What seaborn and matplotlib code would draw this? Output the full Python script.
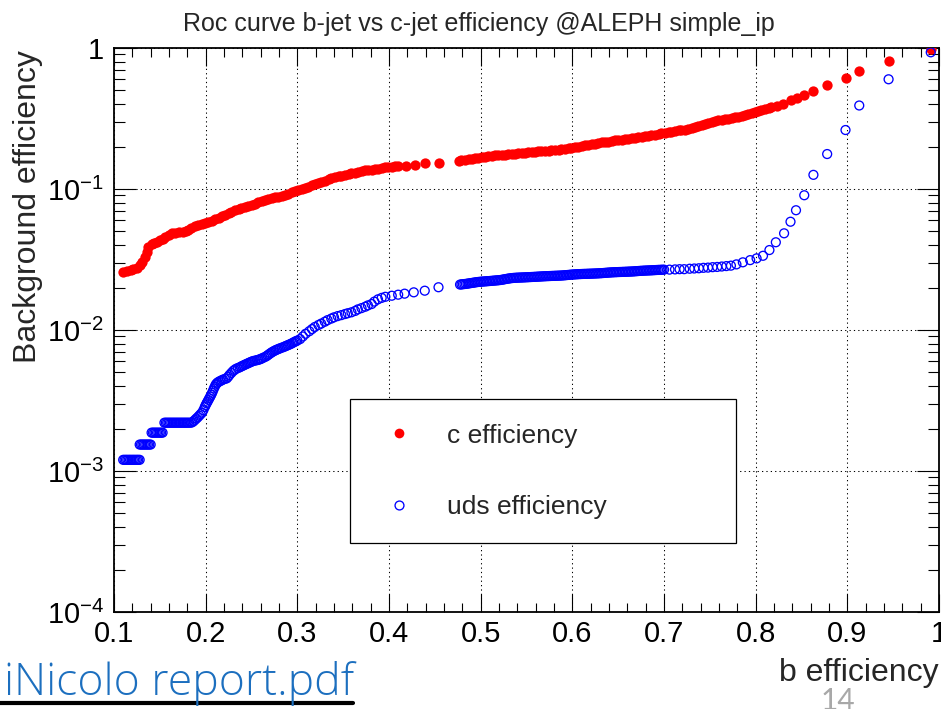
import numpy as np
import pandas as pd
import matplotlib
matplotlib.use("Agg")
import matplotlib.pyplot as plt
from matplotlib.lines import Line2D
from matplotlib.ticker import MultipleLocator, LogLocator, FuncFormatter, NullFormatter
import seaborn as sns

# ROC points: (b efficiency, c-jet efficiency)
c_band_low = [
    (0.110, 0.0259), (0.114, 0.0263), (0.118, 0.0267), (0.121, 0.0270), (0.125, 0.0274),
    (0.128, 0.0287), (0.131, 0.0305), (0.134, 0.0330), (0.136, 0.0355), (0.1375, 0.0390),
    (0.141, 0.0405), (0.144, 0.0414), (0.147, 0.0424), (0.150, 0.0432), (0.153, 0.0442),
    (0.156, 0.0456), (0.160, 0.0472), (0.163, 0.0485), (0.167, 0.0491), (0.171, 0.0495),
    (0.175, 0.0498), (0.178, 0.0503), (0.181, 0.0512), (0.184, 0.0532), (0.188, 0.0550),
    (0.192, 0.0558), (0.196, 0.0565), (0.199, 0.0571), (0.203, 0.0583), (0.207, 0.0597),
    (0.210, 0.0611), (0.214, 0.0626), (0.218, 0.0641), (0.221, 0.0654), (0.225, 0.0673),
    (0.228, 0.0689), (0.232, 0.0704), (0.236, 0.0718), (0.239, 0.0733), (0.243, 0.0749),
    (0.246, 0.0761), (0.250, 0.0774), (0.254, 0.0789), (0.257, 0.0805), (0.261, 0.0820),
    (0.265, 0.0836), (0.268, 0.0847), (0.272, 0.0859), (0.276, 0.0871), (0.279, 0.0882),
    (0.283, 0.0894), (0.287, 0.0907), (0.290, 0.0927), (0.294, 0.0947), (0.297, 0.0965),
    (0.301, 0.0984), (0.305, 0.1002), (0.308, 0.1020), (0.312, 0.1040), (0.316, 0.1060),
    (0.319, 0.1078), (0.323, 0.1097), (0.326, 0.1120), (0.330, 0.1145), (0.334, 0.1168),
    (0.337, 0.1190), (0.341, 0.1210), (0.345, 0.1230), (0.348, 0.1243), (0.352, 0.1257),
    (0.356, 0.1273), (0.359, 0.1290), (0.363, 0.1305), (0.366, 0.1320), (0.370, 0.1338),
    (0.374, 0.1356), (0.377, 0.1360), (0.381, 0.1364), (0.385, 0.1375), (0.388, 0.1387),
    (0.392, 0.1405), (0.396, 0.1425), (0.399, 0.1432), (0.403, 0.1440), (0.406, 0.1448),
    (0.410, 0.1455),
]
c_gap = [(0.419, 0.146), (0.428, 0.149), (0.439, 0.152), (0.454, 0.154)]
c_band_high = [
    (0.476, 0.159), (0.479, 0.160), (0.483, 0.161), (0.487, 0.162), (0.490, 0.163),
    (0.494, 0.165), (0.497, 0.167), (0.501, 0.168), (0.505, 0.170), (0.508, 0.171),
    (0.512, 0.172), (0.516, 0.173), (0.519, 0.174), (0.523, 0.175), (0.526, 0.175),
    (0.530, 0.176), (0.534, 0.177), (0.537, 0.178), (0.541, 0.179), (0.545, 0.180),
    (0.548, 0.181), (0.552, 0.182), (0.556, 0.183), (0.559, 0.184), (0.563, 0.185),
    (0.566, 0.186), (0.570, 0.187), (0.574, 0.187), (0.577, 0.188), (0.581, 0.189),
    (0.585, 0.190), (0.588, 0.192), (0.592, 0.193), (0.596, 0.194), (0.599, 0.196),
    (0.603, 0.198), (0.606, 0.200), (0.610, 0.202), (0.614, 0.204), (0.617, 0.206),
    (0.621, 0.208), (0.625, 0.210), (0.628, 0.212), (0.632, 0.214), (0.636, 0.215),
    (0.639, 0.217), (0.643, 0.219), (0.646, 0.221), (0.650, 0.223), (0.654, 0.224),
    (0.657, 0.226), (0.661, 0.227), (0.665, 0.229), (0.668, 0.230), (0.672, 0.232),
    (0.676, 0.234), (0.679, 0.236), (0.683, 0.239), (0.686, 0.241), (0.690, 0.243),
    (0.694, 0.246), (0.697, 0.248), (0.701, 0.250), (0.705, 0.252), (0.708, 0.255),
    (0.712, 0.258), (0.716, 0.260), (0.719, 0.262), (0.723, 0.264), (0.726, 0.268),
    (0.730, 0.272), (0.734, 0.277), (0.737, 0.281), (0.741, 0.285), (0.745, 0.288),
    (0.748, 0.292), (0.752, 0.297), (0.756, 0.302), (0.759, 0.307), (0.763, 0.310),
    (0.766, 0.314), (0.770, 0.316), (0.774, 0.319), (0.777, 0.322), (0.781, 0.325),
    (0.785, 0.329), (0.788, 0.334), (0.792, 0.339), (0.796, 0.345), (0.799, 0.350),
    (0.803, 0.356), (0.806, 0.362), (0.810, 0.369), (0.814, 0.375), (0.817, 0.382),
]
c_tail = [
    (0.823, 0.388), (0.830, 0.401), (0.839, 0.428), (0.845, 0.444), (0.853, 0.464),
    (0.863, 0.498), (0.878, 0.549), (0.898, 0.608), (0.913, 0.690), (0.945, 0.809),
    (0.991, 0.979),
]

# ROC points: (b efficiency, uds-jet efficiency)
uds_steps = [
    (0.110, 0.00120), (0.1115, 0.00120), (0.113, 0.00120), (0.1145, 0.00120), (0.116, 0.00120),
    (0.1175, 0.00120), (0.119, 0.00120), (0.1205, 0.00120), (0.122, 0.00120), (0.1235, 0.00120),
    (0.125, 0.00120), (0.1265, 0.00120), (0.128, 0.00120),
    (0.128, 0.00154), (0.1295, 0.00154), (0.131, 0.00154), (0.1325, 0.00154), (0.134, 0.00154),
    (0.1355, 0.00154), (0.137, 0.00154), (0.1385, 0.00154), (0.140, 0.00154),
    (0.141, 0.00187), (0.1425, 0.00187), (0.144, 0.00187), (0.1455, 0.00187), (0.147, 0.00187),
    (0.1485, 0.00187), (0.150, 0.00187), (0.1515, 0.00187), (0.153, 0.00187),
    (0.155, 0.00220), (0.1565, 0.00220), (0.158, 0.00220), (0.1595, 0.00220), (0.161, 0.00220),
    (0.1625, 0.00220), (0.164, 0.00220), (0.1655, 0.00220), (0.167, 0.00220), (0.1685, 0.00220),
    (0.170, 0.00220), (0.1715, 0.00220), (0.173, 0.00220), (0.1745, 0.00220), (0.176, 0.00220),
    (0.1775, 0.00220), (0.179, 0.00220), (0.1805, 0.00220), (0.182, 0.00220), (0.184, 0.00220),
]
uds_rise = [
    (0.1855, 0.00222), (0.187, 0.00226), (0.1885, 0.00231), (0.190, 0.00236), (0.1915, 0.00241),
    (0.193, 0.00247), (0.1945, 0.00253), (0.196, 0.00259), (0.1975, 0.00270), (0.199, 0.00284),
    (0.200, 0.00293), (0.201, 0.00302), (0.202, 0.00310), (0.203, 0.00319), (0.204, 0.00328),
    (0.205, 0.00337), (0.206, 0.00347), (0.207, 0.00358), (0.208, 0.00371), (0.209, 0.00385),
    (0.210, 0.00397), (0.211, 0.00410), (0.212, 0.00417), (0.213, 0.00424), (0.2145, 0.00430),
    (0.216, 0.00435), (0.2175, 0.00440), (0.219, 0.00445), (0.221, 0.00450), (0.223, 0.00454),
    (0.2245, 0.00466), (0.226, 0.00480), (0.228, 0.00496), (0.230, 0.00512), (0.2315, 0.00521),
    (0.233, 0.00530), (0.235, 0.00537), (0.237, 0.00543), (0.2385, 0.00550), (0.240, 0.00556),
    (0.2415, 0.00562), (0.243, 0.00568), (0.2445, 0.00574), (0.246, 0.00580), (0.2475, 0.00586),
    (0.249, 0.00592), (0.2505, 0.00598), (0.252, 0.00603), (0.254, 0.00607), (0.256, 0.00611),
    (0.2575, 0.00615), (0.259, 0.00619), (0.2605, 0.00625), (0.262, 0.00632), (0.264, 0.00641),
    (0.266, 0.00650), (0.2675, 0.00661), (0.269, 0.00672), (0.2705, 0.00683), (0.272, 0.00694),
    (0.2735, 0.00703), (0.275, 0.00712), (0.2765, 0.00720), (0.278, 0.00727), (0.2795, 0.00734),
    (0.281, 0.00741), (0.283, 0.00749), (0.285, 0.00757), (0.2865, 0.00765), (0.288, 0.00772),
    (0.2895, 0.00780), (0.291, 0.00787), (0.2925, 0.00795), (0.294, 0.00804), (0.2955, 0.00814),
    (0.297, 0.00824), (0.2985, 0.00833), (0.300, 0.00842), (0.303, 0.00862),
    (0.306, 0.00900), (0.309, 0.00940), (0.313, 0.00980), (0.316, 0.01015), (0.319, 0.01050),
    (0.323, 0.01085), (0.326, 0.01110), (0.330, 0.01145), (0.333, 0.01175), (0.337, 0.01205),
    (0.340, 0.01230), (0.344, 0.01255), (0.348, 0.01275), (0.352, 0.01298), (0.355, 0.01315),
    (0.359, 0.01335), (0.363, 0.01365), (0.366, 0.01400), (0.370, 0.01430), (0.374, 0.01462),
    (0.377, 0.01495), (0.381, 0.01528), (0.384, 0.01590), (0.388, 0.01650), (0.392, 0.01690),
    (0.396, 0.01720),
]
uds_gap = [
    (0.403, 0.0175), (0.410, 0.0178), (0.417, 0.0181), (0.427, 0.0185), (0.439, 0.0190),
    (0.454, 0.0201),
]
uds_band_high = [
    (0.4775, 0.02100), (0.4790, 0.02106), (0.4806, 0.02112), (0.4823, 0.02118), (0.4839, 0.02124),
    (0.4856, 0.02132), (0.4872, 0.02140), (0.4889, 0.02149), (0.4905, 0.02157), (0.4922, 0.02166),
    (0.4938, 0.02174), (0.4955, 0.02183), (0.4971, 0.02190), (0.4988, 0.02196), (0.5004, 0.02201),
    (0.5021, 0.02205), (0.5037, 0.02210), (0.5054, 0.02214), (0.5070, 0.02218), (0.5087, 0.02223),
    (0.5103, 0.02227), (0.5120, 0.02232), (0.5136, 0.02237), (0.5153, 0.02242), (0.5169, 0.02247),
    (0.5186, 0.02252), (0.5202, 0.02257), (0.5219, 0.02264), (0.5235, 0.02273), (0.5252, 0.02284),
    (0.5268, 0.02295), (0.5285, 0.02305), (0.5301, 0.02315), (0.5318, 0.02324), (0.5334, 0.02332),
    (0.5351, 0.02338), (0.5367, 0.02343), (0.5384, 0.02347), (0.5400, 0.02350), (0.5417, 0.02353),
    (0.5433, 0.02355), (0.5450, 0.02358), (0.5466, 0.02360), (0.5483, 0.02363), (0.5499, 0.02366),
    (0.5516, 0.02369), (0.5532, 0.02372), (0.5549, 0.02375), (0.5565, 0.02378), (0.5582, 0.02381),
    (0.5598, 0.02384), (0.5615, 0.02388), (0.5631, 0.02391), (0.5648, 0.02395), (0.5664, 0.02398),
    (0.5681, 0.02402), (0.5697, 0.02405), (0.5714, 0.02408), (0.5730, 0.02411), (0.5747, 0.02413),
    (0.5763, 0.02416), (0.5780, 0.02418), (0.5796, 0.02421), (0.5813, 0.02423), (0.5829, 0.02426),
    (0.5846, 0.02428), (0.5862, 0.02431), (0.5879, 0.02434), (0.5895, 0.02438), (0.5912, 0.02443),
    (0.5928, 0.02448), (0.5945, 0.02454), (0.5961, 0.02460), (0.5978, 0.02466), (0.5994, 0.02471),
    (0.6011, 0.02476), (0.6027, 0.02480), (0.6044, 0.02484), (0.6060, 0.02488), (0.6077, 0.02491),
    (0.6093, 0.02494), (0.6110, 0.02497), (0.6126, 0.02499), (0.6143, 0.02501), (0.6159, 0.02503),
    (0.6176, 0.02506), (0.6192, 0.02508), (0.6209, 0.02510), (0.6225, 0.02513), (0.6242, 0.02515),
    (0.6258, 0.02518), (0.6275, 0.02521), (0.6291, 0.02524), (0.6308, 0.02528), (0.6324, 0.02532),
    (0.6341, 0.02537), (0.6357, 0.02542), (0.6374, 0.02547), (0.6390, 0.02552), (0.6407, 0.02557),
    (0.6423, 0.02561), (0.6440, 0.02565), (0.6456, 0.02568), (0.6473, 0.02571), (0.6489, 0.02574),
    (0.6506, 0.02577), (0.6522, 0.02579), (0.6539, 0.02581), (0.6555, 0.02584), (0.6572, 0.02586),
    (0.6588, 0.02589), (0.6605, 0.02592), (0.6621, 0.02595), (0.6638, 0.02598), (0.6654, 0.02601),
    (0.6671, 0.02605), (0.6687, 0.02610), (0.6704, 0.02615), (0.6720, 0.02620), (0.6737, 0.02625),
    (0.6753, 0.02629), (0.6770, 0.02633), (0.6786, 0.02637), (0.6803, 0.02640), (0.6819, 0.02643),
    (0.6836, 0.02646), (0.6852, 0.02649), (0.6869, 0.02652), (0.6885, 0.02656), (0.6902, 0.02660),
    (0.6918, 0.02664), (0.6935, 0.02667), (0.6951, 0.02670), (0.6968, 0.02673), (0.6984, 0.02676),
    (0.7001, 0.02679),
]
uds_tail = [
    (0.706, 0.0268), (0.712, 0.0269), (0.717, 0.0270), (0.722, 0.0270), (0.728, 0.0272),
    (0.733, 0.0273), (0.738, 0.0274), (0.743, 0.0276), (0.748, 0.0277), (0.753, 0.0279),
    (0.758, 0.0280), (0.763, 0.0282), (0.768, 0.0284), (0.773, 0.0286), (0.779, 0.0292),
    (0.786, 0.0302), (0.794, 0.0313), (0.801, 0.0322), (0.808, 0.0336), (0.815, 0.0369),
    (0.822, 0.0419), (0.831, 0.0485), (0.838, 0.0586), (0.844, 0.0707), (0.853, 0.0903),
    (0.863, 0.126), (0.878, 0.177), (0.898, 0.262), (0.913, 0.391), (0.945, 0.600),
    (0.991, 0.932),
]

series_labels = ["c efficiency", "uds efficiency"]
title_text = "Roc curve b-jet vs c-jet efficiency @ALEPH simple_ip"
x_label = "b efficiency"
y_label = "Background efficiency"
file_link_text = "iNicolo report.pdf"
page_number = "14"

c_df = pd.DataFrame(c_band_low + c_gap + c_band_high + c_tail, columns=["b_eff", "bkg_eff"])
uds_df = pd.DataFrame(uds_steps + uds_rise + uds_gap + uds_band_high + uds_tail,
                      columns=["b_eff", "bkg_eff"])

sns.set_theme(style="ticks")
plt.rcParams["font.family"] = ["Liberation Sans", "DejaVu Sans"]
plt.rcParams["mathtext.fontset"] = "custom"
plt.rcParams["mathtext.rm"] = "Liberation Sans"
plt.rcParams["mathtext.it"] = "Liberation Sans:italic"
plt.rcParams["mathtext.bf"] = "Liberation Sans:bold"
plt.rcParams["mathtext.sf"] = "Liberation Sans"
plt.rcParams["axes.edgecolor"] = "black"
plt.rcParams["xtick.color"] = "black"
plt.rcParams["ytick.color"] = "black"

fig = plt.figure(figsize=(9.41, 7.09), dpi=100, facecolor="white")
ax = fig.add_axes([114 / 941, 97 / 709, 825 / 941, 564 / 709])
ax.set_facecolor("white")

RED = "#ff0000"
BLUE = "#0000ff"

sns.scatterplot(data=c_df, x="b_eff", y="bkg_eff", ax=ax, marker="o", s=55,
                color=RED, linewidth=0, zorder=3)
sns.scatterplot(data=uds_df, x="b_eff", y="bkg_eff", ax=ax, marker="o", s=41,
                facecolor="none", edgecolor=BLUE, linewidth=0.95, zorder=4)

ax.set_yscale("log")
ax.set_xlim(0.1, 1.0)
ax.set_ylim(1e-4, 1)

ax.xaxis.set_major_locator(MultipleLocator(0.1))
ax.xaxis.set_minor_locator(MultipleLocator(0.02))
ax.yaxis.set_major_locator(LogLocator(base=10, numticks=10))
ax.yaxis.set_minor_locator(LogLocator(base=10, subs=np.arange(2, 10), numticks=20))
ax.yaxis.set_minor_formatter(NullFormatter())


def y_fmt(v, pos):
    e = int(round(np.log10(v)))
    return "1" if e == 0 else rf"$10^{{{e}}}$"


def x_fmt(v, pos):
    return "1" if abs(v - 1) < 1e-9 else f"{v:.1f}"


ax.yaxis.set_major_formatter(FuncFormatter(y_fmt))
ax.xaxis.set_major_formatter(FuncFormatter(x_fmt))

ax.tick_params(which="both", direction="in", top=True, right=True)
ax.tick_params(axis="x", which="major", length=13, width=0.8, labelsize=21, pad=6)
ax.tick_params(axis="x", which="minor", length=6.3, width=0.8)
ax.tick_params(axis="y", which="major", length=16, width=0.8, labelsize=21, pad=7)
ax.tick_params(axis="y", which="minor", length=8, width=0.8)
for sp in ax.spines.values():
    sp.set_visible(True)
    sp.set_linewidth(1.3)
    sp.set_color("black")

ax.grid(True, which="major", color="black", linestyle=(0, (1.2, 3.0)), linewidth=0.75)
ax.grid(False, which="minor")

ax.set_xlabel(x_label, fontsize=23, loc="right")
ax.xaxis.label.set_va("baseline")
ax.xaxis.set_label_coords(1.0, -(681 - 612) / 564)
ax.set_ylabel(y_label, fontsize=23, loc="top")
ax.yaxis.set_label_coords(-(114 - 43) / 825, (612 - 50) / 564)

fig.suptitle(title_text, x=479 / 941, y=(709 - 30.5) / 709, va="baseline",
             ha="center", fontsize=18)

handles = [
    Line2D([], [], ls="none", marker="o", ms=7.0, mfc=RED, mec=RED, mew=0),
    Line2D([], [], ls="none", marker="o", ms=6.4, mfc="none", mec=BLUE, mew=0.95),
]
leg = ax.legend(handles, series_labels, loc="center left",
                bbox_to_anchor=(0.286, 0.1206, 0.468, 0.258), mode="expand",
                fontsize=19, frameon=True, fancybox=False, shadow=False,
                framealpha=1, edgecolor="black", borderpad=0.93, labelspacing=1.79,
                handlelength=1.85, handletextpad=0.9, borderaxespad=0)
leg.get_frame().set_linewidth(0.9)
leg.set_zorder(10)

fig.text(4 / 941, (709 - 695) / 709, file_link_text, color="#1c6fbf", fontsize=32,
         family=["Open Sans", "DejaVu Sans"], fontweight="light", ha="left", va="baseline")
fig.add_artist(Line2D([0, 353 / 941], [(709 - 702.5) / 709] * 2, color="black",
                      lw=3, transform=fig.transFigure))
fig.text(838 / 941, (709 - 709.5) / 709, page_number, color="#a8a8a8", fontsize=21.5,
         family=["Lato", "DejaVu Sans"], ha="center", va="baseline")

fig.savefig("out.png", dpi=100, facecolor="white")
